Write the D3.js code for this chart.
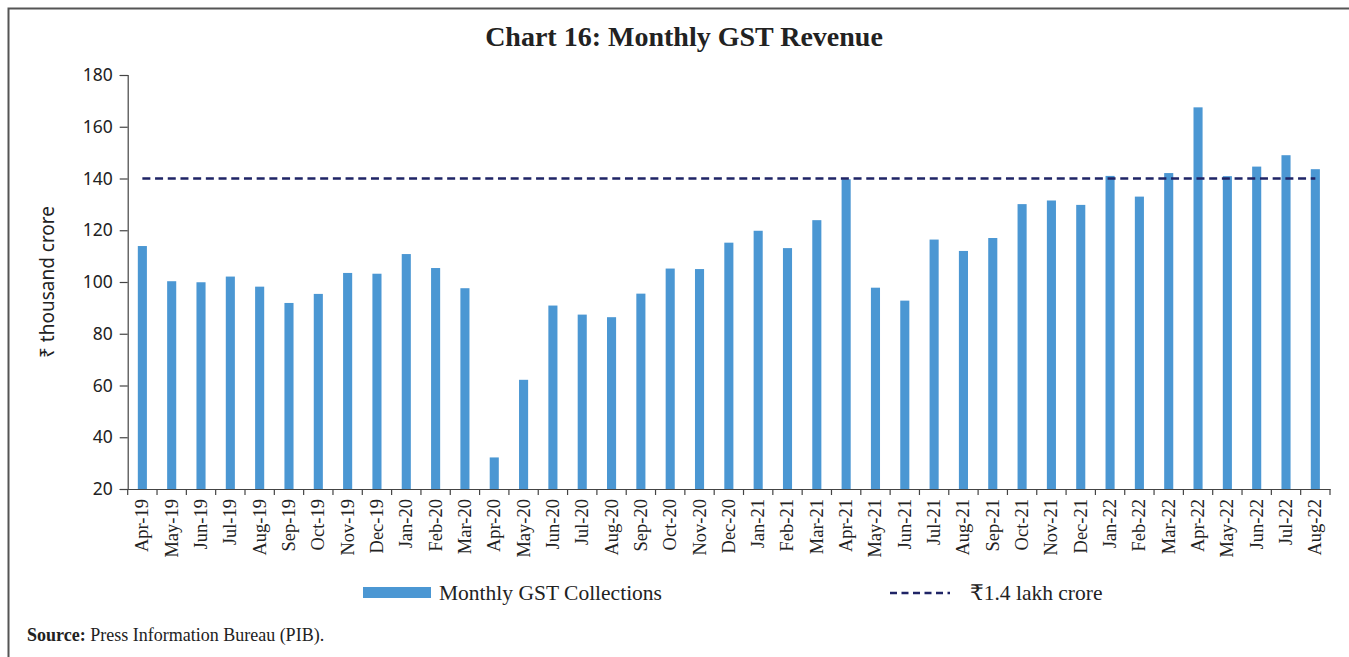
<!DOCTYPE html>
<html><head><meta charset="utf-8">
<script src="https://cdn.jsdelivr.net/npm/d3@7/dist/d3.min.js"></script>
<style>body{margin:0;background:#fff}svg{display:block}</style>
</head><body>
<svg id="c" width="1349" height="657"></svg>
<script>
const categories = ["Apr-19","May-19","Jun-19","Jul-19","Aug-19","Sep-19","Oct-19","Nov-19","Dec-19","Jan-20","Feb-20","Mar-20","Apr-20","May-20","Jun-20","Jul-20","Aug-20","Sep-20","Oct-20","Nov-20","Dec-20","Jan-21","Feb-21","Mar-21","Apr-21","May-21","Jun-21","Jul-21","Aug-21","Sep-21","Oct-21","Nov-21","Dec-21","Jan-22","Feb-22","Mar-22","Apr-22","May-22","Jun-22","Jul-22","Aug-22"];
const collections = [113.9,100.3,99.9,102.1,98.2,91.9,95.4,103.5,103.2,110.8,105.4,97.6,32.2,62.2,90.9,87.4,86.4,95.5,105.2,105.0,115.2,119.8,113.1,123.9,139.7,97.8,92.8,116.4,112.0,117.0,130.1,131.5,129.8,141.0,133.0,142.1,167.5,140.9,144.6,149.0,143.6];
const threshold = 140;
const yTicks = [20,40,60,80,100,120,140,160,180];
const seriesNames = ["Monthly GST Collections","₹1.4 lakh crore"];

const svg = d3.select("#c");
const serif = "'Liberation Serif','DejaVu Serif',serif";
const sans = "'Noto Sans','DejaVu Sans',sans-serif";
const axisColor = "#444";

// frame
svg.append("path").attr("d","M8.5,660 V8.5 H1352").attr("fill","none").attr("stroke","#555").attr("stroke-width",2);

// title
svg.append("text").attr("x",684).attr("y",46).attr("text-anchor","middle")
  .attr("font-family",serif).attr("font-weight","bold").attr("font-size",28).attr("fill","#222")
  .text("Chart 16: Monthly GST Revenue");

const x = d3.scaleBand().domain(categories).range([127.7,1330]).padding(0);
const y = d3.scaleLinear().domain([20,180]).range([489,75]);
const bw = x.bandwidth()*0.31;

// bars
svg.append("g").selectAll("rect").data(categories).join("rect")
  .attr("x",(d)=>x(d)+x.bandwidth()/2-bw/2)
  .attr("y",(d,i)=>y(collections[i]))
  .attr("width",bw)
  .attr("height",(d,i)=>y(20)-y(collections[i]))
  .attr("fill","#4b97d3");

// threshold line
const first = categories[0], last = categories[categories.length-1];
svg.append("line")
  .attr("x1",x(first)+x.bandwidth()/2).attr("x2",x(last)+x.bandwidth()/2)
  .attr("y1",y(threshold)).attr("y2",y(threshold))
  .attr("stroke","#1f2466").attr("stroke-width",2.5).attr("stroke-dasharray","8,4.7");

// y axis
const ya = svg.append("g").attr("transform","translate(127.7,0)")
  .call(d3.axisLeft(y).tickValues(yTicks).tickSize(8).tickPadding(7));
ya.select(".domain").attr("stroke",axisColor).attr("stroke-width",1.2);
ya.selectAll(".tick line").attr("stroke",axisColor).attr("stroke-width",1.2);
ya.selectAll(".tick text").attr("font-family",sans).attr("font-size",17.5).attr("fill","#222");

// x axis
const xa = svg.append("g").attr("transform","translate(0,489)")
  .call(d3.axisBottom(x).tickSize(0).tickSizeOuter(0));
xa.select(".domain").attr("stroke",axisColor).attr("stroke-width",1.2);
xa.selectAll(".tick text")
  .attr("font-family",serif).attr("font-size",18.5).attr("fill","#222")
  .attr("text-anchor","end").attr("dy",null)
  .attr("transform","translate(6,10) rotate(-90)")
  .attr("x",0).attr("y",0);
// boundary ticks
const bounds = categories.map(d=>x(d)).concat([x(last)+x.bandwidth()]);
svg.append("g").selectAll("line").data(bounds).join("line")
  .attr("x1",d=>d).attr("x2",d=>d).attr("y1",489).attr("y2",495)
  .attr("stroke",axisColor).attr("stroke-width",1.2);

// y axis title
svg.append("text").attr("transform","translate(54,282) rotate(-90)").attr("text-anchor","middle")
  .attr("font-family",sans).attr("font-size",19).attr("fill","#222").text("₹ thousand crore");

// legend
svg.append("rect").attr("x",363).attr("y",587).attr("width",68).attr("height",11).attr("fill","#4b97d3");
svg.append("text").attr("x",439).attr("y",600).attr("font-family",serif).attr("font-size",21.5).attr("fill","#222").text(seriesNames[0]);
svg.append("line").attr("x1",890).attr("x2",950).attr("y1",593).attr("y2",593)
  .attr("stroke","#1f2466").attr("stroke-width",2.5).attr("stroke-dasharray","7,4.5");
svg.append("text").attr("x",970).attr("y",600).attr("font-family",serif).attr("font-size",21.5).attr("fill","#222").text(seriesNames[1]);

// source
const src = svg.append("text").attr("x",27).attr("y",641).attr("font-family",serif).attr("font-size",18).attr("fill","#222");
src.append("tspan").attr("font-weight","bold").text("Source:");
src.append("tspan").text(" Press Information Bureau (PIB).");
</script>
</body></html>
